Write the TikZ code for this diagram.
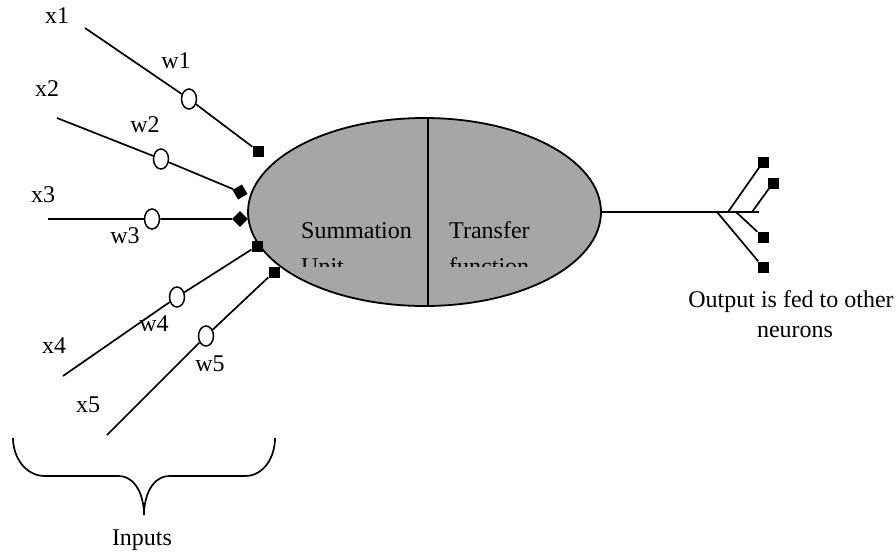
\documentclass[tikz,border=0pt]{standalone}
\usepackage{fontspec}
\setmainfont{Liberation Serif}
\usetikzlibrary{shapes.geometric}
\definecolor{cellgray}{HTML}{A6A6A6}
\begin{document}
\begin{tikzpicture}[x=1pt,y=-1pt,
  wire/.style={line width=1.7pt},
  lbl/.style={font=\fontsize{24}{28}\selectfont, inner sep=0pt},
  wnode/.style={ellipse, draw, line width=1.5pt, fill=white, minimum width=15pt, minimum height=20pt, inner sep=0pt},
  sq/.style={rectangle, fill=black, minimum size=11pt, inner sep=0pt},
]
\useasboundingbox (0,0) rectangle (896,552);
% neuron body
\node[ellipse, draw, line width=1.8pt, fill=cellgray, minimum width=353pt, minimum height=188pt, inner sep=0pt] (neuron) at (424.5,212) {};
\draw[wire] ([xshift=3.5pt]neuron.north) -- ([xshift=3.5pt]neuron.south);
\begin{scope}
\clip (280,200) rectangle (600,266);
\node[lbl, anchor=base west] (sum1) at (301,238) {Summation};
\node[lbl, anchor=base west] (sum2) at (301,274) {Unit};
\node[lbl, anchor=base west] (tr1) at (449,238) {Transfer};
\node[lbl, anchor=base west] (tr2) at (449,274) {function};
\end{scope}
% inputs
\coordinate (i1) at (85,28);
\coordinate (i2) at (57,118);
\coordinate (i3) at (48,219);
\coordinate (i4) at (63,376);
\coordinate (i5) at (107,435);
\node[wnode] (c1) at (189,99) {};
\node[wnode] (c2) at (161,159) {};
\node[wnode] (c3) at (152,219) {};
\node[wnode] (c4) at (177,297) {};
\node[wnode] (c5) at (206,336) {};
\node[sq] (s1) at (258,151) {};
\node[sq, rotate=30] (s2) at (240,192) {};
\node[sq, rotate=45] (s3) at (240,219) {};
\node[sq] (s4) at (257,246) {};
\node[sq] (s5) at (274,272) {};
\draw[wire] (i1) -- (c1) -- (s1);
\draw[wire] (i2) -- (c2) -- (s2);
\draw[wire] (i3) -- (c3) -- (s3);
\draw[wire] (i4) -- (c4) -- (s4);
\draw[wire] (i5) -- (c5) -- (s5);
% input labels
\node[lbl] (x1) at (57,16) {x1};
\node[lbl] (x2) at (47,89) {x2};
\node[lbl] (x3) at (43,195) {x3};
\node[lbl] (x4) at (54,346) {x4};
\node[lbl] (x5) at (88,405) {x5};
\node[lbl] (w1) at (176,61) {w1};
\node[lbl] (w2) at (145,125) {w2};
\node[lbl] (w3) at (125,236) {w3};
\node[lbl] (w4) at (154,324) {w4};
\node[lbl] (w5) at (210,364) {w5};
% output
\coordinate (oend) at (759,212);
\coordinate (b1) at (728,212);
\coordinate (b2) at (752,212);
\coordinate (b3) at (736,212);
\coordinate (b4) at (717,212);
\node[sq] (o1) at (763,162) {};
\node[sq] (o2) at (773,183) {};
\node[sq] (o3) at (763,237) {};
\node[sq] (o4) at (763,267) {};
\draw[wire] (neuron.east) -- (oend);
\draw[wire] (b1) -- (o1);
\draw[wire] (b2) -- (o2);
\draw[wire] (b3) -- (o3);
\draw[wire] (b4) -- (o4);
\node[lbl, anchor=base] (out1) at (791,307) {Output is fed to other};
\node[lbl, anchor=base] (out2) at (795,337) {neurons};
% brace
\draw[wire] (13,438) to[out=-90,in=180] (45,476) -- (118,476) to[out=0,in=90] (144,515) to[out=90,in=180] (170,476) -- (245,476) to[out=0,in=-90] (275,438);
\node[lbl, anchor=base] (inputs) at (142,545) {Inputs};
\end{tikzpicture}
\end{document}
